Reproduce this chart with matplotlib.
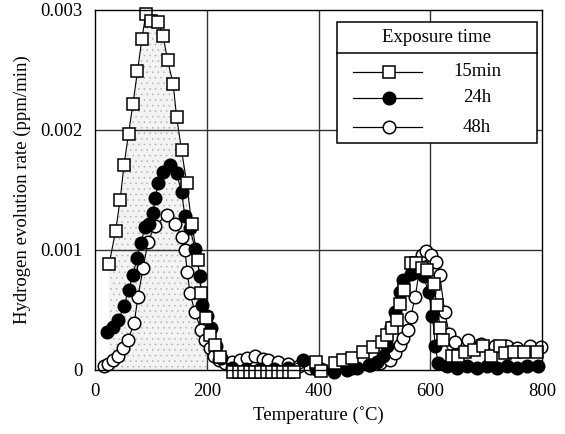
import numpy as np
import matplotlib
matplotlib.use("Agg")
import matplotlib.pyplot as plt
from matplotlib.lines import Line2D
from matplotlib.patches import Rectangle

# ---- data ----
T15 = [25, 37, 45, 52, 60, 68, 76, 84, 91, 100, 113, 122, 130, 140, 146, 155, 164, 173,
       184, 190, 199, 206, 215, 224,
       247, 257, 267, 277, 287, 297, 307, 317, 327, 337, 347, 357,
       396, 404, 430, 444, 460, 480, 498, 514, 523, 532, 540, 546, 553, 565, 574, 585,
       594, 606, 612, 618, 622, 639, 650, 662, 678, 695, 708, 725, 734, 749, 767, 791]
y15 = [0.00088, 0.00116, 0.00142, 0.00171, 0.00197, 0.00222, 0.00249, 0.00276, 0.00297,
       0.00291, 0.00290, 0.00278, 0.00258, 0.00238, 0.00211, 0.00183, 0.00156, 0.00122,
       0.00092, 0.00064, 0.00043, 0.00029, 0.00021, 0.00011,
       -0.000015, -0.000015, -0.000015, -0.000015, -0.000015, -0.000015, -0.000015,
       -0.000015, -0.000015, -0.000015, -0.000015, -0.000015,
       0.00007, -0.00001, 0.00006, 0.00008, 0.00010, 0.00015, 0.00019, 0.00023, 0.00029,
       0.00035, 0.00042, 0.00055, 0.00067, 0.00089, 0.00089, 0.00085,
       0.00083, 0.00072, 0.00054, 0.00035, 0.00025, 0.00012, 0.00012, 0.00015, 0.00017,
       0.00020, 0.00012, 0.00020, 0.00014, 0.00015, 0.00015, 0.00015]

T24 = [22, 32, 42, 52, 60, 68, 75, 82, 90, 97, 104, 108, 113, 122, 134, 146, 155, 161,
       170, 179, 188, 192, 200, 208, 216, 226, 245, 270, 295, 320, 345, 373, 395, 427,
       451, 469, 492, 505, 515, 522, 530, 537, 546, 552, 565, 575, 588, 597, 604, 609,
       614, 630, 648, 666, 684, 702, 720, 738, 756, 774, 792]
y24 = [0.00032, 0.00036, 0.00042, 0.00053, 0.00067, 0.00079, 0.00093, 0.00106, 0.00119,
       0.00122, 0.00131, 0.00143, 0.00156, 0.00165, 0.00171, 0.00164, 0.00148, 0.00128,
       0.00118, 0.00101, 0.00078, 0.00054, 0.00045, 0.00035, 0.00020, 0.00010, 0.00002,
       0.00001, 0.00001, 0.00001, 0.00002, 0.00008, 0.00001, -0.00002,
       0.0, 0.00002, 0.00004, 0.00007, 0.00012, 0.00020, 0.00036, 0.00048, 0.00065,
       0.00075, 0.00080, 0.00082, 0.00078, 0.00065, 0.00045, 0.00020,
       0.00006, 0.00003, 0.00002, 0.00003, 0.00002, 0.00003, 0.00002, 0.00003, 0.00002,
       0.00003, 0.00003]

T48 = [16, 24, 33, 41, 50, 59, 70, 77, 86, 95, 107, 128, 143, 155, 161, 165, 170, 179,
       190, 197, 205, 213, 222, 232, 245, 260, 272, 287, 301, 310, 328, 345, 365, 385,
       405, 430, 460, 490, 510, 528, 537, 546, 552, 560, 565, 573, 585, 593, 602, 610,
       617, 626, 634, 645, 668, 690, 716, 738, 756, 778, 798]
y48 = [0.00003, 0.00005, 0.00008, 0.00012, 0.00018, 0.00025, 0.00039, 0.00061, 0.00085,
       0.00107, 0.00120, 0.00129, 0.00122, 0.00111, 0.00100, 0.00082, 0.00064, 0.00048,
       0.00033, 0.00025, 0.00018, 0.00012, 0.00008, 0.00006, 0.00007, 0.00008, 0.00010,
       0.00012, 0.00009, 0.00008, 0.00007, 0.00005, 0.00003, 0.00002,
       0.00001, 0.00001, 0.00002, 0.00004, 0.00006, 0.00008, 0.00014, 0.00021, 0.00027,
       0.00033, 0.00044, 0.00061, 0.00096, 0.00099, 0.00096, 0.00090,
       0.00079, 0.00048, 0.00030, 0.00023, 0.00025, 0.00022, 0.00020, 0.00020, 0.00018,
       0.00020, 0.00019]

xticks = [0, 200, 400, 600, 800]
yticks = [0, 0.001, 0.002, 0.003]
yticklabels = ["0", "0.001", "0.002", "0.003"]
legend_labels = ["15min", "24h", "48h"]
legend_title = "Exposure time"

# ---- figure ----
plt.rcParams['font.family'] = ['Liberation Serif', 'DejaVu Serif']
plt.rcParams['hatch.linewidth'] = 0.3
fig = plt.figure(figsize=(5.65, 4.34), dpi=100)
ax = fig.add_axes([95/565, 64/434, 447/565, 360/434])

ax.set_xlim(0, 800)
ax.set_ylim(0, 0.003)

FS = 13.5

# stippled area under 15min curve up to 200 C
T15a = np.array(T15, float); y15a = np.array(y15, float)
m = T15a <= 200
fx = np.concatenate([T15a[m], [200]])
fy = np.concatenate([y15a[m], [np.interp(200, T15a, y15a)]])
ax.fill_between(fx, 0, fy, facecolor='#f3f3f3', edgecolor='#a8a8a8', hatch='...',
                linewidth=0, zorder=1)

# grid
for gx in [200, 400, 600]:
    ax.axvline(gx, color='#333333', lw=1.0, zorder=2)
for gy in [0.001, 0.002]:
    ax.axhline(gy, color='#333333', lw=1.0, zorder=2)

ms = 9
ax.plot(T48, y48, color='black', lw=0.8, marker='o', ms=ms, mfc='white', mec='black',
        mew=1.1, zorder=3, clip_on=False)
ax.plot(T24, y24, color='black', lw=0.8, marker='o', ms=ms, mfc='black', mec='black',
        mew=1.1, zorder=4, clip_on=False)
ax.plot(T15, y15, color='black', lw=0.8, marker='s', ms=ms, mfc='white', mec='black',
        mew=1.1, zorder=5, clip_on=False)

ax.set_xticks(xticks)
ax.set_yticks(yticks)
ax.set_yticklabels(yticklabels)
ax.tick_params(length=0, labelsize=FS, pad=9)
for s in ax.spines.values():
    s.set_linewidth(1.0)
    s.set_zorder(6)

ax.set_xlabel("Temperature (\u02daC)", fontsize=FS, labelpad=5)
ax.set_ylabel("Hydrogen evolution rate (ppm/min)", fontsize=FS, labelpad=7)

# ---- legend drawn in axes coordinates ----
lx0, lx1, ly0, ly1 = 0.541, 0.989, 0.63, 0.967
ax.add_patch(Rectangle((lx0, ly0), lx1 - lx0, ly1 - ly0, transform=ax.transAxes,
                       facecolor='white', edgecolor='black', lw=1.1, zorder=10))
ax.add_line(Line2D([lx0, lx1], [0.881, 0.881], transform=ax.transAxes, color='black',
                   lw=1.1, zorder=11))
ax.text((lx0 + lx1) / 2, 0.924, legend_title, transform=ax.transAxes, ha='center',
        va='center', fontsize=FS, zorder=11)
rows = [0.828, 0.756, 0.675]
styles = [dict(marker='s', mfc='white'), dict(marker='o', mfc='black'),
          dict(marker='o', mfc='white')]
for yy, lab, st in zip(rows, legend_labels, styles):
    ax.add_line(Line2D([0.577, 0.732], [yy, yy], transform=ax.transAxes, color='black',
                       lw=0.9, zorder=11))
    ax.add_line(Line2D([0.658], [yy], transform=ax.transAxes, color='black', ms=ms,
                       mec='black', mew=1.1, zorder=12, **st))
    ax.text(0.855, yy, lab, transform=ax.transAxes, ha='center', va='center',
            fontsize=FS, zorder=12)

fig.savefig("out.png", dpi=100)
